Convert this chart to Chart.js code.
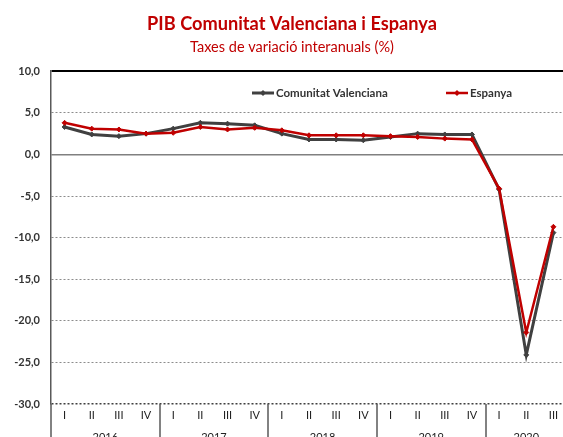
<!DOCTYPE html>
<html>
<head>
<meta charset="utf-8">
<script src="https://cdn.jsdelivr.net/npm/chart.js@4.4.0/dist/chart.umd.min.js"></script>
<style>
  html, body { margin: 0; padding: 0; background: #fff; overflow: hidden; }
  #wrap { width: 584px; height: 437px; }
</style>
</head>
<body>
<div id="wrap"><canvas id="pib"></canvas></div>
<script>
const FONT = 'Lato, "DejaVu Sans", sans-serif';

// quarters 2016 I .. 2020 III
const QUARTERS = ['I', 'II', 'III', 'IV', 'I', 'II', 'III', 'IV', 'I', 'II', 'III', 'IV',
  'I', 'II', 'III', 'IV', 'I', 'II', 'III'];
const YEARS = ['2016', '2017', '2018', '2019', '2020'];
const YEAR_QUARTERS = [4, 4, 4, 4, 3];

// variació interanual (%)
const CV = [3.3, 2.4, 2.2, 2.5, 3.1, 3.8, 3.7, 3.5, 2.5, 1.8, 1.8, 1.7, 2.1, 2.5, 2.4, 2.4, -4.2, -24.1, -9.4];
const ES = [3.8, 3.1, 3.0, 2.5, 2.6, 3.3, 3.0, 3.2, 2.9, 2.3, 2.3, 2.3, 2.2, 2.1, 1.9, 1.8, -4.1, -21.4, -8.7];

const Y_MIN = -30;
const Y_MAX = 10;
const Y_STEP = 5;

const LEGEND_X = [252, 446];
const LEGEND_Y = 93;

function diamond(ctx, x, y, r) {
  ctx.beginPath();
  ctx.moveTo(x, y - r);
  ctx.lineTo(x + r, y);
  ctx.lineTo(x, y + r);
  ctx.lineTo(x - r, y);
  ctx.closePath();
  ctx.fill();
}

// legend sits inside the plot, under the top border
const inlineLegend = {
  id: 'inlineLegend',
  afterDraw(chart) {
    const { ctx } = chart;
    ctx.save();
    ctx.font = 'bold 11.5px ' + FONT;
    ctx.textBaseline = 'middle';
    chart.data.datasets.forEach((ds, i) => {
      const x0 = LEGEND_X[i];
      ctx.strokeStyle = ds.borderColor;
      ctx.lineWidth = ds.borderWidth;
      ctx.beginPath();
      ctx.moveTo(x0, LEGEND_Y);
      ctx.lineTo(x0 + 22, LEGEND_Y);
      ctx.stroke();
      ctx.fillStyle = ds.borderColor;
      diamond(ctx, x0 + 11, LEGEND_Y, 3);
      ctx.fillStyle = '#333';
      ctx.fillText(ds.label, x0 + 24, LEGEND_Y);
    });
    ctx.restore();
  },
};

// year row + separators under the quarter labels
const yearAxis = {
  id: 'yearAxis',
  afterDraw(chart) {
    const { ctx, chartArea } = chart;
    const x = chart.scales.x;
    const half = (x.getPixelForValue(1) - x.getPixelForValue(0)) / 2;
    ctx.save();
    ctx.strokeStyle = '#595959';
    ctx.lineWidth = 1.5;
    ctx.fillStyle = '#222';
    ctx.font = '11px ' + FONT;
    ctx.textAlign = 'center';
    ctx.textBaseline = 'top';
    let start = 0;
    YEARS.forEach((yr, i) => {
      const n = YEAR_QUARTERS[i];
      const left = Math.round(x.getPixelForValue(start) - half);
      ctx.beginPath();
      ctx.moveTo(left, chartArea.bottom);
      ctx.lineTo(left, chart.height);
      ctx.stroke();
      const mid = (x.getPixelForValue(start) + x.getPixelForValue(start + n - 1)) / 2;
      ctx.fillText(yr, mid, 432);
      start += n;
    });
    ctx.restore();
  },
};

function gridColor(c) {
  if (!c.tick) return '#8c8c8c';
  if (c.tick.value === Y_MAX) return '#000';
  if (c.tick.value === Y_MIN) return '#404040';
  if (c.tick.value === 0) return '#808080';
  return '#8c8c8c';
}

function gridWidth(c) {
  if (!c.tick) return 1;
  if (c.tick.value === Y_MAX) return 2;
  if (c.tick.value === 0 || c.tick.value === Y_MIN) return 1.5;
  return 1;
}

new Chart(document.getElementById('pib'), {
  type: 'line',
  data: {
    labels: QUARTERS,
    datasets: [
      {
        label: 'Comunitat Valenciana',
        data: CV,
        borderColor: '#404040',
        backgroundColor: '#404040',
        borderWidth: 3,
        pointStyle: 'rectRot',
        pointRadius: 2.5,
        pointBorderWidth: 1,
        tension: 0,
        order: 1,
      },
      {
        label: 'Espanya',
        data: ES,
        borderColor: '#c00000',
        backgroundColor: '#c00000',
        borderWidth: 2.5,
        pointStyle: 'rectRot',
        pointRadius: 2.5,
        pointBorderWidth: 1,
        tension: 0,
        order: 0,
      },
    ],
  },
  options: {
    responsive: true,
    maintainAspectRatio: false,
    animation: false,
    layout: { padding: 0 },
    plugins: {
      legend: { display: false },
      tooltip: { enabled: false },
      title: {
        display: true,
        text: 'PIB Comunitat Valenciana i Espanya',
        color: '#c00000',
        font: { family: FONT, size: 18.2, weight: 'bold' },
        padding: { top: 13, bottom: 1 },
      },
      subtitle: {
        display: true,
        text: 'Taxes de variació interanuals (%)',
        color: '#c00000',
        font: { family: FONT, size: 14.5 },
        padding: { top: 3, bottom: 15 },
      },
    },
    scales: {
      x: {
        offset: true,
        grid: { display: false, drawTicks: false },
        border: { display: false },
        ticks: {
          color: '#222',
          padding: 5,
          autoSkip: false,
          maxRotation: 0,
          font: { family: FONT, size: 11 },
        },
        afterFit: s => { s.height = 33; },
      },
      y: {
        min: Y_MIN,
        max: Y_MAX,
        ticks: {
          stepSize: Y_STEP,
          padding: 11,
          color: '#333',
          font: { family: FONT, size: 11, weight: 'bold' },
          callback: v => v.toFixed(1).replace('.', ','),
        },
        grid: { drawTicks: false, color: gridColor, lineWidth: gridWidth },
        border: {
          color: '#595959',
          width: 1.5,
          dash: c => (c.tick && c.tick.value !== 0 && c.tick.value !== Y_MAX) ? [2, 2] : [],
        },
        afterFit: s => { s.width = 51; },
      },
      // empty right margin so the plot runs past the window edge
      yRight: {
        position: 'right',
        grid: { display: false, drawTicks: false },
        border: { display: false },
        ticks: { display: false },
        afterFit: s => { s.width = 17; },
      },
    },
  },
  plugins: [inlineLegend, yearAxis],
});
</script>
</body>
</html>
